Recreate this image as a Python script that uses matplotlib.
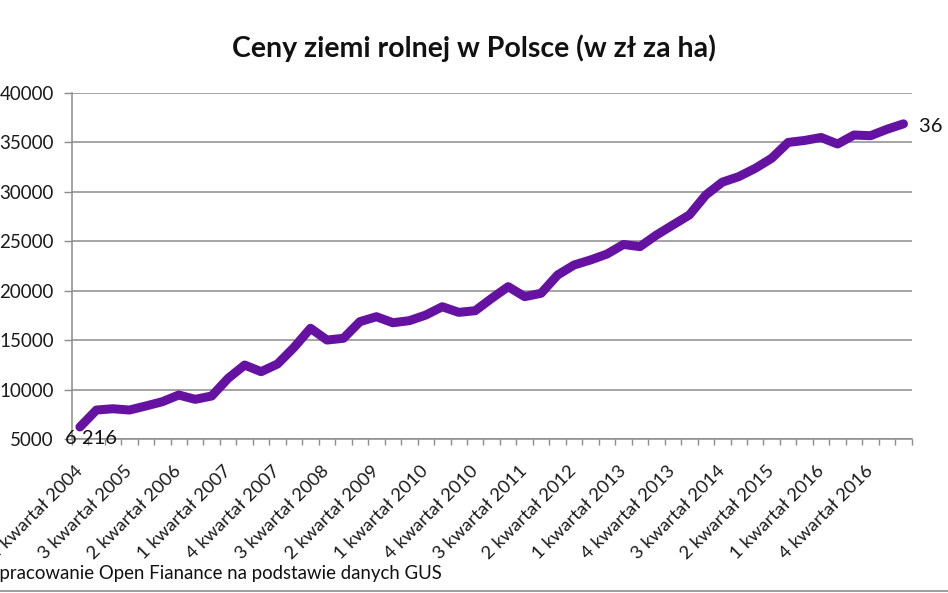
import matplotlib
matplotlib.use("Agg")
import matplotlib.pyplot as plt
from matplotlib.ticker import FixedLocator, NullFormatter
import numpy as np

# quarters from 4Q2004 to 2Q2017
quarters = []
for year in range(2004, 2018):
    for q in range(1, 5):
        if (year == 2004 and q < 4) or (year == 2017 and q > 2):
            continue
        quarters.append(f"{q} kwartał {year}")

# average price of farmland, zł per hectare
prices = [6216, 7930, 8060, 7930, 8340, 8770, 9450, 9010, 9350, 11140,
          12480, 11810, 12590, 14270, 16200, 15010, 15190, 16870, 17370, 16760,
          16970, 17540, 18380, 17810, 17980, 19230, 20410, 19400, 19740, 21590,
          22600, 23110, 23710, 24680, 24460, 25630, 26650, 27660, 29680, 30980,
          31540, 32380, 33400, 35000, 35200, 35500, 34840, 35750, 35680, 36330,
          36880]

title = "Ceny ziemi rolnej w Polsce (w zł za ha)"
source = "opracowanie Open Fianance na podstawie danych GUS"
yticks = [5000, 10000, 15000, 20000, 25000, 30000, 35000, 40000]

FONT = "Lato"
GRID = "#8c8c8c"
LINE = "#6512a3"
TXT = "#1a1a1a"

plt.rcParams["font.family"] = [FONT, "DejaVu Sans"]

fig = plt.figure(figsize=(9.48, 5.93), dpi=100)
ax = fig.add_axes([71.7 / 948, 154 / 593, 840 / 948, 346 / 593])

x = np.arange(len(prices))
ax.plot(x, prices, color=LINE, lw=6.5, solid_joinstyle="round",
        solid_capstyle="round", zorder=3)

ax.set_xlim(-0.5, len(prices) - 0.5)
ax.set_ylim(5000, 40000)

ax.set_yticks(yticks)
ax.set_yticklabels([str(v) for v in yticks], fontsize=13.5, color=TXT)
ax.yaxis.grid(True, color=GRID, lw=1.1)
ax.set_axisbelow(True)
ax.tick_params(axis="y", length=6, width=1, color=GRID, pad=7)

# labels every 3rd quarter, tick marks between categories
lab_idx = list(range(0, len(prices), 3))
ax.set_xticks(lab_idx)
ax.set_xticklabels([quarters[i] for i in lab_idx], rotation=45, ha="right",
                   va="center", rotation_mode="anchor", fontsize=13.3,
                   color=TXT)
ax.tick_params(axis="x", which="major", length=0, pad=21)
ax.xaxis.set_minor_locator(FixedLocator(np.arange(-0.5, len(prices), 1)))
ax.xaxis.set_minor_formatter(NullFormatter())
ax.tick_params(axis="x", which="minor", length=4, width=1, color=GRID)

for side in ["top", "right"]:
    ax.spines[side].set_visible(False)
for side in ["left", "bottom"]:
    ax.spines[side].set_color(GRID)
    ax.spines[side].set_linewidth(1.1)

# data labels for first and last value
ax.annotate(f"{prices[0]:,}".replace(",", " "), (x[0], prices[0]),
            xytext=(-11, -2), textcoords="offset points", ha="left",
            va="top", fontsize=14.5, color="#111111", zorder=4)
ax.annotate(f"{prices[-1]:,}".replace(",", " "), (x[-1], prices[-1]),
            xytext=(11, -2), textcoords="offset points", ha="left",
            va="center", fontsize=14.5, color="#111111", annotation_clip=False)

fig.text(0.5, 1 - 48 / 593, title, ha="center", va="center",
         fontsize=20.5, fontweight="bold", color="#111111")
fig.text(-11 / 948, 1 - 574 / 593, source, ha="left", va="center",
         fontsize=13.4, color="#111111")
fig.add_artist(plt.Line2D([0, 1], [1 - 591 / 593] * 2, color=GRID, lw=1.2,
                          transform=fig.transFigure))

fig.savefig("out.png", dpi=100)
